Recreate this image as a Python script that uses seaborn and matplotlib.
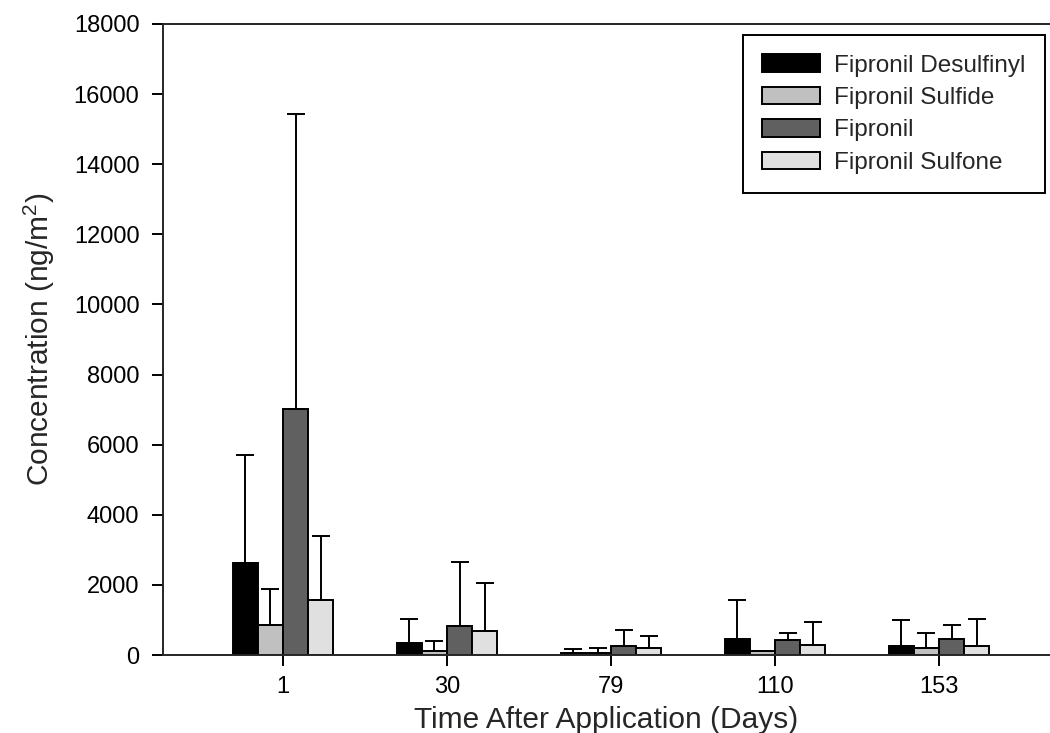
import matplotlib

matplotlib.use("Agg")
import matplotlib.pyplot as plt
import numpy as np
import pandas as pd
import seaborn as sns

days = ["1", "30", "79", "110", "153"]
compounds = ["Fipronil Desulfinyl", "Fipronil Sulfide", "Fipronil", "Fipronil Sulfone"]
colors = ["#000000", "#c0c0c0", "#606060", "#e0e0e0"]

# mean concentrations (ng/m2)
desulfinyl = [2620, 340, 50, 450, 250]
sulfide = [850, 100, 50, 100, 200]
fipronil = [7020, 830, 270, 420, 460]
sulfone = [1570, 680, 200, 290, 260]

# upper error (SD)
desulfinyl_sd = [3080, 690, 130, 1130, 760]
sulfide_sd = [1030, 300, 140, 0, 440]
fipronil_sd = [8400, 1820, 430, 210, 410]
sulfone_sd = [1830, 1380, 340, 660, 780]

means = [desulfinyl, sulfide, fipronil, sulfone]
sds = [desulfinyl_sd, sulfide_sd, fipronil_sd, sulfone_sd]

df = pd.DataFrame(
    [(d, c, m[i]) for c, m in zip(compounds, means) for i, d in enumerate(days)],
    columns=["day", "compound", "conc"],
)

sns.set_style("ticks")
plt.rcParams["font.family"] = ["Liberation Sans", "DejaVu Sans"]
plt.rcParams["mathtext.fontset"] = "custom"
plt.rcParams["mathtext.rm"] = "Liberation Sans"
plt.rcParams["mathtext.default"] = "regular"

fig = plt.figure(figsize=(10.5, 7.33), dpi=100)
ax = fig.add_axes([163 / 1050, 1 - 655 / 733, 887 / 1050, 631 / 733])

sns.barplot(
    data=df, x="day", y="conc", hue="compound", order=days, hue_order=compounds,
    palette=colors, width=0.61, gap=0, errorbar=None, edgecolor="black",
    linewidth=1.4, saturation=1, ax=ax,
)

for cont, sd in zip(ax.containers, sds):
    xs = [b.get_x() + b.get_width() / 2 for b in cont]
    ys = [b.get_height() for b in cont]
    ax.errorbar(xs, ys, yerr=[np.zeros(len(sd)), sd], fmt="none", ecolor="black",
                elinewidth=1.4, capsize=6.8, capthick=1.4, zorder=1)

ax.set_ylim(0, 18000)
ax.set_yticks(range(0, 18001, 2000))
ax.set_xlim(-120 / 164, -120 / 164 + 887 / 164)
ax.spines["right"].set_visible(False)
for s in ["left", "bottom", "top"]:
    ax.spines[s].set_linewidth(1.4)
ax.tick_params(axis="both", labelsize=17, length=8, width=1.4, colors="black")
ax.tick_params(axis="y", pad=9)
ax.tick_params(axis="x", pad=7)
ax.set_xlabel("Time After Application (Days)", fontsize=21.5, labelpad=6)
ax.set_ylabel("Concentration (ng/m$^2$)", fontsize=21.5, labelpad=12)

handles, labels = ax.get_legend_handles_labels()
ax.legend(
    handles, labels, loc="upper right", bbox_to_anchor=(1045 / 1050, 1 - 35 / 733),
    bbox_transform=fig.transFigure, fontsize=17.5, frameon=True, fancybox=False,
    edgecolor="black", framealpha=1, handlelength=2.35, handleheight=0.72,
    labelspacing=0.42, borderpad=0.8, handletextpad=0.6, borderaxespad=0,
).get_frame().set_linewidth(1.4)

fig.savefig("out.png", dpi=100)
